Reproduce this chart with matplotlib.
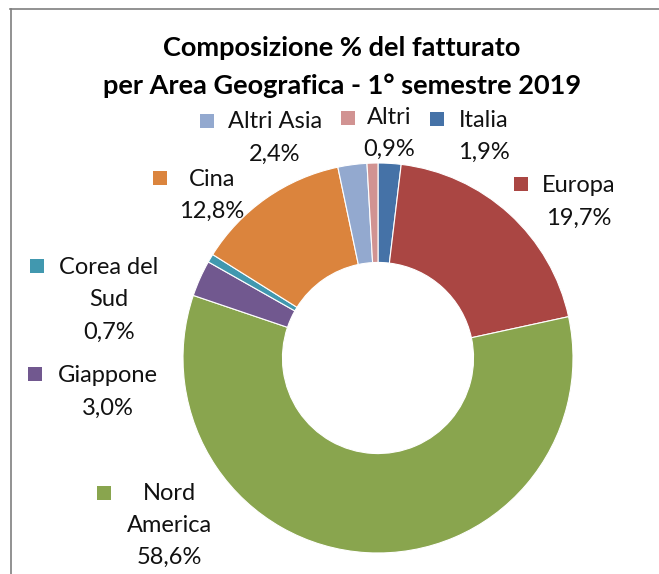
import matplotlib.pyplot as plt
from matplotlib.patches import Rectangle
from matplotlib.lines import Line2D

# Data (clockwise from 12 o'clock)
regions = ["Italia", "Europa", "Nord America", "Giappone", "Corea del Sud",
           "Cina", "Altri Asia", "Altri"]
shares = [1.9, 19.7, 58.6, 3.0, 0.7, 12.8, 2.4, 0.9]
colors = ["#4572A7", "#AA4643", "#89A54E", "#71588F", "#4198AF",
          "#DB843D", "#93A9CF", "#D19392"]

title = "Composizione % del fatturato\nper Area Geografica - 1° semestre 2019"

W, H = 659, 574
fig = plt.figure(figsize=(W / 100, H / 100), dpi=100)
plt.rcParams['font.family'] = ['Lato', 'DejaVu Sans']


def px(x, y):
    # pixel position (from top-left) -> figure fraction
    return x / W, 1 - y / H


# donut: centre (378, 358), outer radius 195 px
cx, cy, r = 378, 358, 195
ax = fig.add_axes([(cx - r) / W, (H - cy - r) / H, 2 * r / W, 2 * r / H])
ax.pie(shares, colors=colors, startangle=90, counterclock=False, radius=1,
       wedgeprops=dict(width=0.51, edgecolor='white', linewidth=0.8))
ax.set_xlim(-1, 1)
ax.set_ylim(-1, 1)
ax.set_aspect('equal')
ax.axis('off')

# chart frame (only top and left edges visible)
fig.add_artist(Line2D([10 / W, 1], [1 - 9 / H, 1 - 9 / H], color='#7f7f7f', lw=1.2))
fig.add_artist(Line2D([11 / W, 11 / W], [0, 1 - 9 / H], color='#7f7f7f', lw=1.2))

# title
t1, t2 = title.split("\n")
fig.text(*px(342, 48), t1, ha='center', va='center', fontsize=19.5, fontweight='bold')
fig.text(*px(342, 86), t2, ha='center', va='center', fontsize=19.5, fontweight='bold')

# label layout: marker centre, text centre x, first line y, wrapped name lines
layout = {
    "Italia": ((437, 119), 484, 120, ["Italia"]),
    "Europa": ((521, 184), 579, 186, ["Europa"]),
    "Nord America": ((104, 493), 169, 493, ["Nord", "America"]),
    "Giappone": ((35, 374), 108, 376, ["Giappone"]),
    "Corea del Sud": ((37, 266), 109, 268, ["Corea del", "Sud"]),
    "Cina": ((160, 178), 212, 179, ["Cina"]),
    "Altri Asia": ((207, 121), 275, 122, ["Altri Asia"]),
    "Altri": ((348, 118), 389, 117, ["Altri"]),
}
step = 32
ms = 14
for name, val, col in zip(regions, shares, colors):
    (mx, my), tx, ty, lines = layout[name]
    fig.add_artist(Rectangle(((mx - ms / 2) / W, 1 - (my + ms / 2) / H), ms / W, ms / H,
                             transform=fig.transFigure, facecolor=col, edgecolor='none'))
    pct = f"{val:.1f}".replace(".", ",") + "%"
    for i, line in enumerate(lines + [pct]):
        fig.text(*px(tx, ty + i * step), line, ha='center', va='center',
                 fontsize=17, color='#111111')

fig.savefig("out.png", dpi=100)
